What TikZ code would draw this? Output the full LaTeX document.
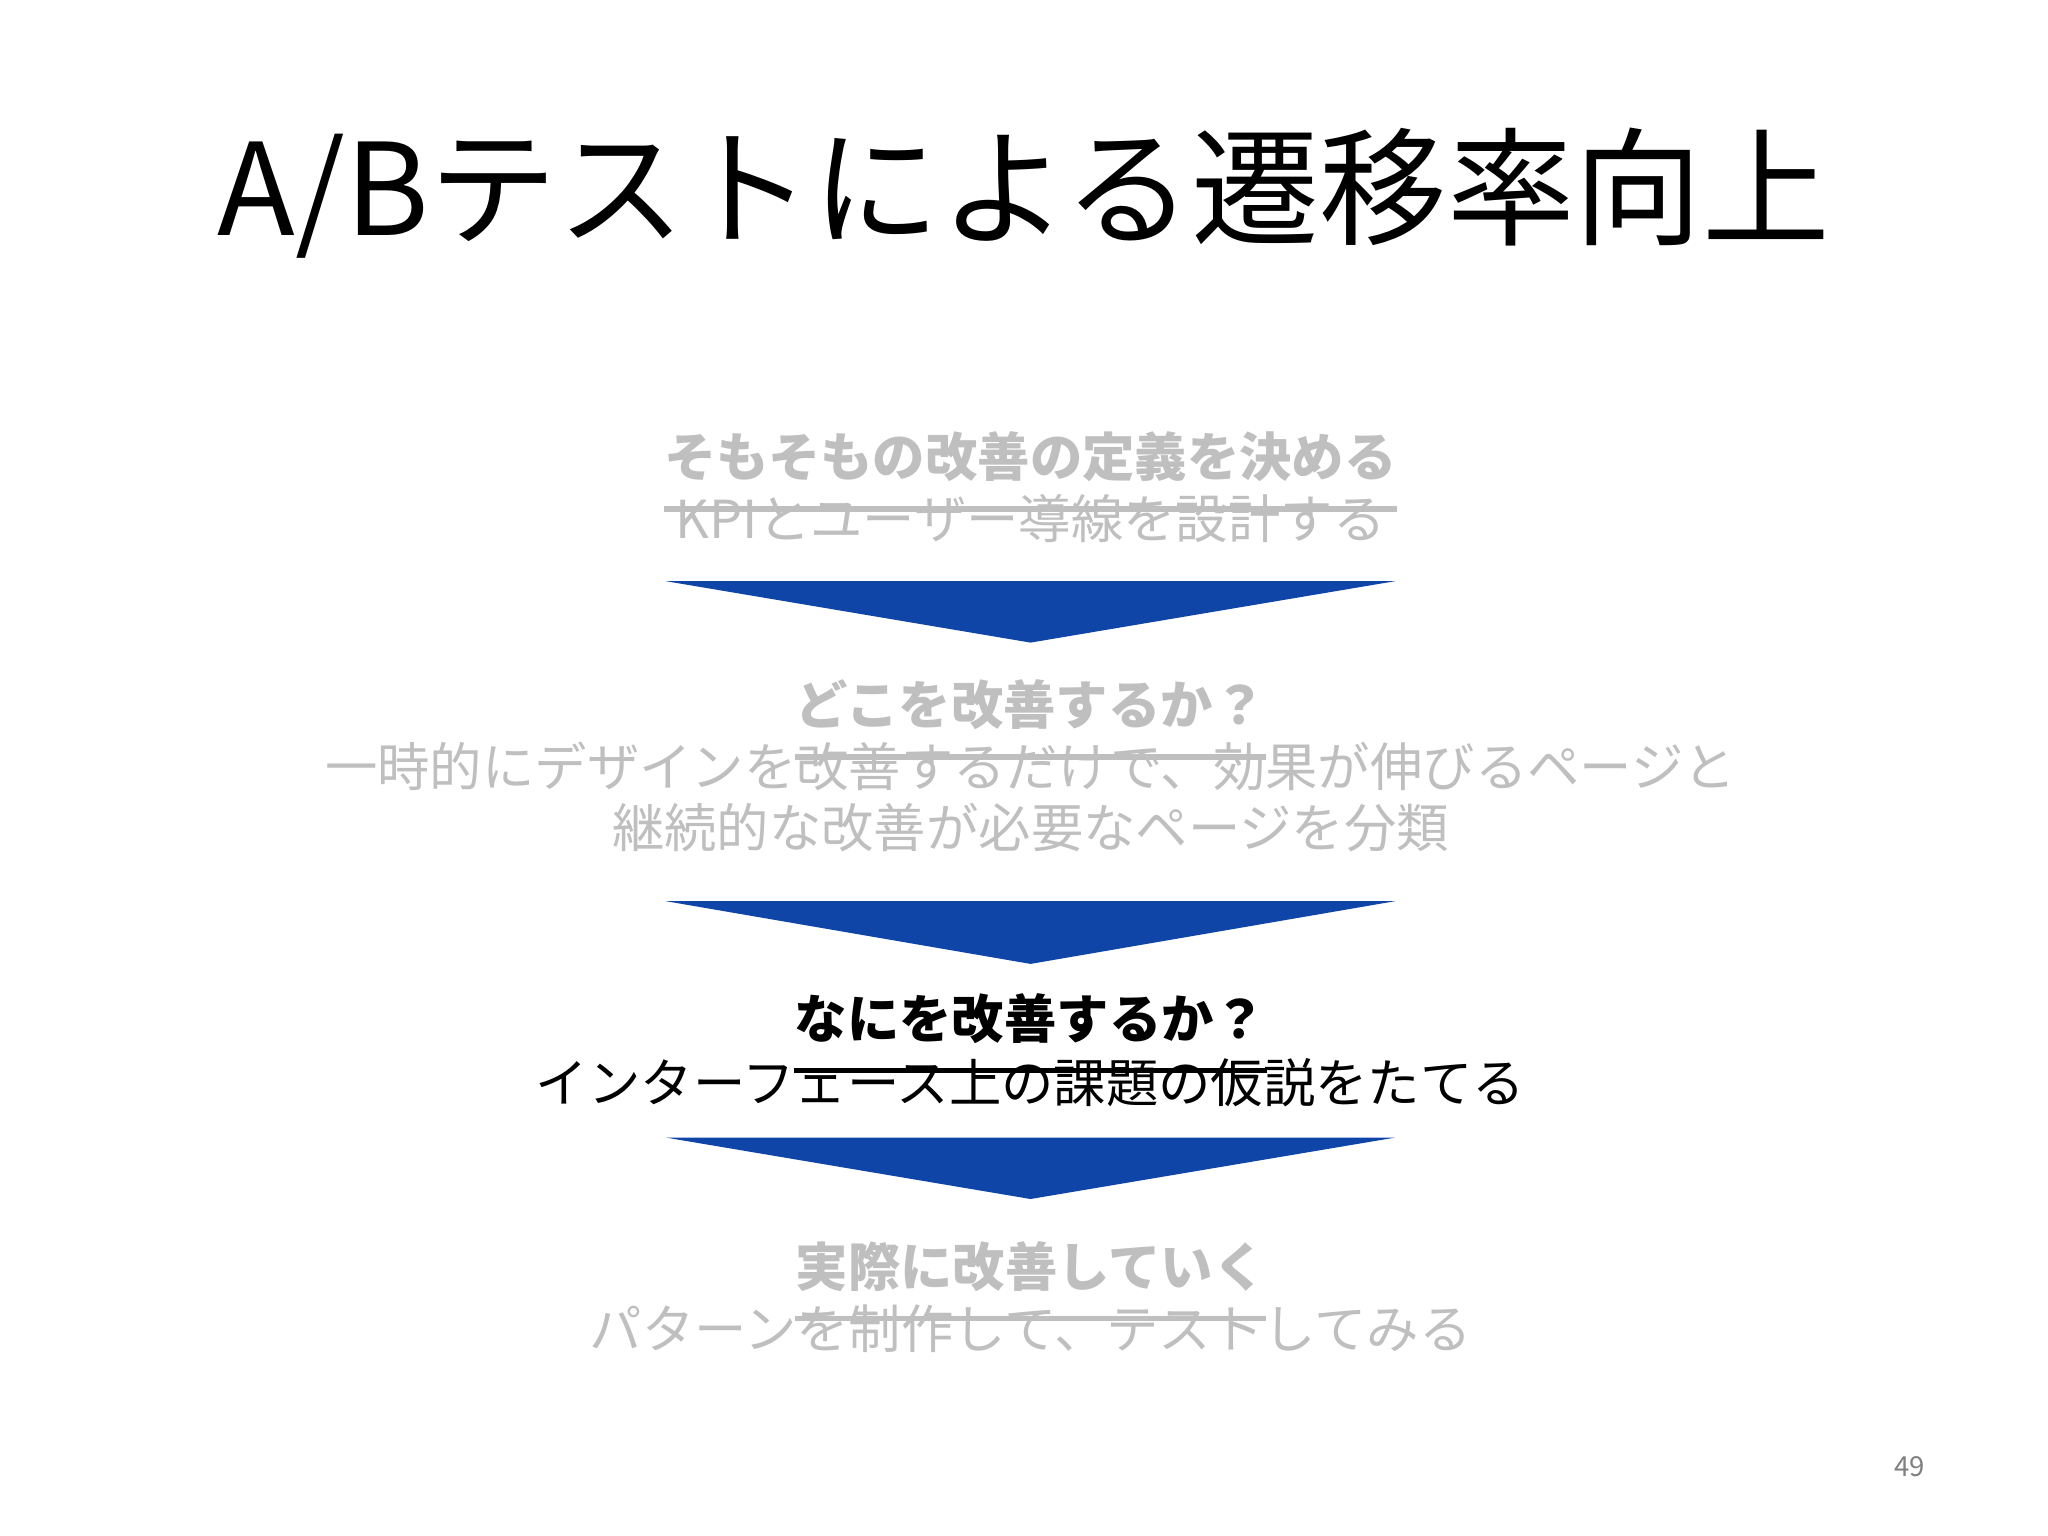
\documentclass[tikz,border=0pt]{standalone}
\usepackage{fontspec}
\setmainfont{Noto Sans CJK JP}
\newfontfamily\jpbold{Noto Sans CJK JP}[BoldFont={* Bold}]
\begin{document}
\begin{tikzpicture}[x=0.01cm,y=-0.01cm]
\definecolor{grayt}{HTML}{BFBFBF}
\definecolor{arrowblue}{HTML}{1045A8}
\tikzset{
 head/.style={font=\fontsize{11.4pt}{14pt}\selectfont\bfseries, inner sep=0pt, anchor=base},
 body/.style={font=\fontsize{11.4pt}{13.4pt}\selectfont, align=center, inner sep=0pt},
 chev/.style={fill=arrowblue, draw=none},
 ul/.style={line width=1.2pt}
}
\useasboundingbox (0,0) rectangle (1568,1176);
\node[font=\fontsize{27.8pt}{30pt}\selectfont] (title) at (784,148) {A/Bテストによる遷移率向上};

\node[head,text=grayt] (h1) at (789,365) {そもそもの改善の定義を決める};
\draw[ul,grayt] ([yshift=-7pt]h1.base west) -- ([yshift=-7pt]h1.base east);
\node[body,text=grayt] (b1) at (789,397) {KPIとユーザー導線を設計する};
\fill[chev] (510,445) -- (1068,445) -- (789,492) -- cycle;

\node[head,text=grayt] (h2) at (789,555) {どこを改善するか？};
\draw[ul,grayt] ([yshift=-7pt]h2.base west) -- ([yshift=-7pt]h2.base east);
\node[body,text=grayt] (b2) at (789,610) {一時的にデザインを改善するだけで、効果が伸びるページと\\継続的な改善が必要なページを分類};
\fill[chev] (510,690) -- (1068,690) -- (789,738) -- cycle;

\node[head,text=black] (h3) at (789,795) {なにを改善するか？};
\draw[ul,black] ([yshift=-7pt]h3.base west) -- ([yshift=-7pt]h3.base east);
\node[body,text=black] (b3) at (789,829) {インターフェース上の課題の仮説をたてる};
\fill[chev] (510,871) -- (1068,871) -- (789,918) -- cycle;

\node[head,text=grayt] (h4) at (789,985) {実際に改善していく};
\draw[ul,grayt] ([yshift=-7pt]h4.base west) -- ([yshift=-7pt]h4.base east);
\node[body,text=grayt] (b4) at (789,1017) {パターンを制作して、テストしてみる};

\node[font=\fontsize{6pt}{7pt}\selectfont, text=gray] (pg) at (1462,1123) {49};
\end{tikzpicture}
\end{document}
